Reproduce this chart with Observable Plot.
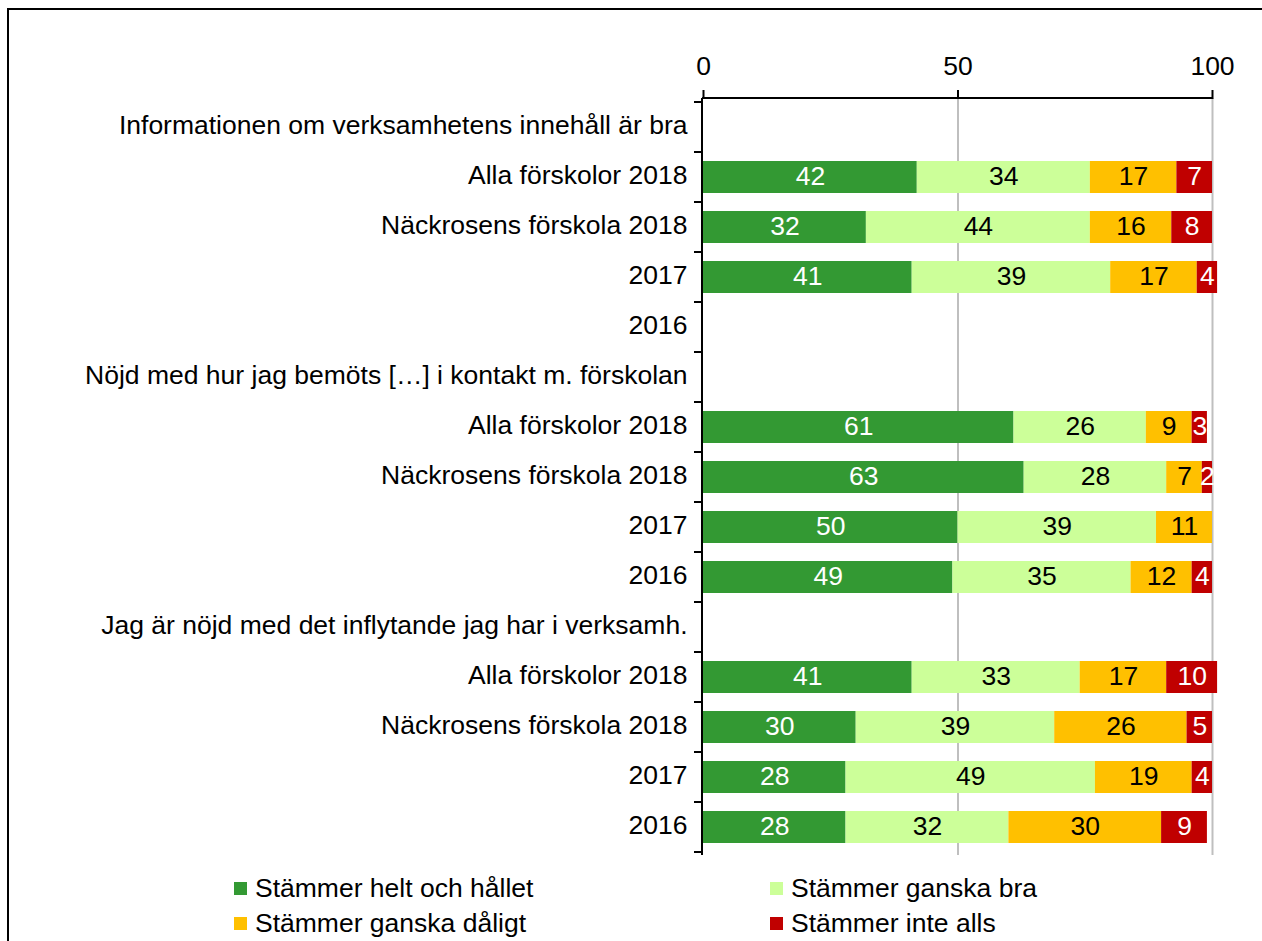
<!DOCTYPE html>
<html>
<head>
<meta charset="utf-8">
<script src="https://cdn.jsdelivr.net/npm/d3@7"></script>
<script src="https://cdn.jsdelivr.net/npm/@observablehq/plot@0.6"></script>
<style>
  html, body { margin: 0; padding: 0; background: #fff; overflow: hidden; }
  body { font-family: "Liberation Sans", Arial, sans-serif; }
  #wrap { position: relative; width: 1262px; height: 941px; overflow: hidden; }
  #border { position: absolute; left: 7px; top: 8px; width: 1300px; height: 1000px; border: 2px solid #000; box-sizing: border-box; }
  #chart { position: absolute; left: 0; top: 0; }
  .leg { position: absolute; font-size: 26.5px; line-height: 30px; color: #000; white-space: nowrap; }
  .leg .sw { position: absolute; width: 13px; height: 13px; left: 0; top: 9px; }
  .leg .lab { position: absolute; left: 21px; top: 0; }
</style>
</head>
<body>
<div id="wrap">
  <div id="border"></div>
  <div id="chart"></div>
  <div id="legend"></div>
</div>
<script>
// ---- data ----
const groups = [
  "Informationen om verksamhetens innehåll är bra",
  "Nöjd med hur jag bemöts […] i kontakt m. förskolan",
  "Jag är nöjd med det inflytande jag har i verksamh."
];
const rowLabels = ["Alla förskolor 2018", "Näckrosens förskola 2018", "2017", "2016"];
const series = ["Stämmer helt och hållet", "Stämmer ganska bra", "Stämmer ganska dåligt", "Stämmer inte alls"];
const seriesColors = ["#339933", "#ccff99", "#ffc000", "#c00000"];
const whiteTextSeries = ["Stämmer helt och hållet", "Stämmer inte alls"];
// values per group, per row (Alla 2018, Näckrosens 2018, 2017, 2016)
const heltOchHallet = [[42, 32, 41, null], [61, 63, 50, 49], [41, 30, 28, 28]];
const ganskaBra     = [[34, 44, 39, null], [26, 28, 39, 35], [33, 39, 49, 32]];
const ganskaDaligt  = [[17, 16, 17, null], [9, 7, 11, 12], [17, 26, 19, 30]];
const inteAlls      = [[7, 8, 4, null], [3, 2, null, 4], [10, 5, 4, 9]];
const xTicks = [0, 50, 100];
const gridTicks = [50, 100];

// ---- build table ----
const seriesValues = [heltOchHallet, ganskaBra, ganskaDaligt, inteAlls];
const keys = [];
const labelOf = {};
const data = [];
groups.forEach((g, gi) => {
  const hk = `h${gi}`;
  keys.push(hk); labelOf[hk] = g;
  rowLabels.forEach((r, ri) => {
    const k = `r${gi}-${ri}`;
    keys.push(k); labelOf[k] = r;
    series.forEach((s, si) => {
      const v = seriesValues[si][gi][ri];
      if (v != null) data.push({key: k, series: s, value: v});
    });
  });
});

// axis lines and boundary tick marks on the category axis (between rows)
function axisFrame(index, scales, values, dimensions) {
  const y = scales.y, x = scales.x;
  const bw = typeof y.bandwidth === "function" ? y.bandwidth() : scales.scales.y.bandwidth;
  const step = y(keys[1]) - y(keys[0]);
  const off = (step - bw) / 2;
  const ys = keys.map(k => y(k) - off);
  ys.push(y(keys[keys.length - 1]) + bw + off);
  const x0 = x(xTicks[0]) - 1;
  const top = dimensions.marginTop;
  const bottom = dimensions.height - dimensions.marginBottom;
  const g = d3.create("svg:g").attr("stroke", "#000").attr("stroke-width", 2);
  g.selectAll("line.t").data(ys).join("line")
    .attr("x1", x0 - 8).attr("x2", x0)
    .attr("y1", d => d).attr("y2", d => d);
  g.append("line").attr("x1", x0).attr("x2", x0).attr("y1", top).attr("y2", bottom);
  g.append("line").attr("x1", x0).attr("x2", x(xTicks[xTicks.length - 1])).attr("y1", top).attr("y2", top);
  return g.node();
}

const stackOpts = {y: "key", x: "value", z: "series"};

const chart = Plot.plot({
  width: 1262,
  height: 870,
  marginLeft: 703,
  marginRight: 50,
  marginTop: 98,
  marginBottom: 15,
  style: {fontFamily: "'Liberation Sans', Arial, sans-serif", fontSize: "26.5px", background: "transparent", color: "#000"},
  x: {domain: [0, 100], range: [703, 1212]},
  y: {domain: keys, paddingInner: 0.366, paddingOuter: 0.183},
  color: {domain: series, range: seriesColors},
  marks: [
    Plot.ruleX(gridTicks, {stroke: "#bfbfbf", strokeWidth: 2}),
    Plot.barX(data, Plot.stackX({...stackOpts, fill: "series"})),
    Plot.text(data, Plot.stackX({...stackOpts, text: d => whiteTextSeries.includes(d.series) ? String(d.value) : null, fill: "#fff", fontSize: 26.5, dy: -1})),
    Plot.text(data, Plot.stackX({...stackOpts, text: d => whiteTextSeries.includes(d.series) ? null : String(d.value), fill: "#000", fontSize: 26.5, dy: -1})),
    Plot.axisX({anchor: "top", ticks: xTicks, tickSize: 9, tickPadding: 15, fontSize: 26.5, strokeWidth: 2, stroke: "#000", label: null}),
    Plot.axisY({anchor: "left", tickSize: 0, tickPadding: 16, fontSize: 26.5, tickFormat: k => labelOf[k], label: null, dy: -2}),
    axisFrame
  ]
});
document.getElementById("chart").appendChild(chart);

// ---- legend (HTML, below the SVG) ----
const legend = document.getElementById("legend");
const legPos = [[234, 873], [770, 873], [234, 908], [770, 908]];
series.forEach((s, i) => {
  const item = document.createElement("div");
  item.className = "leg";
  item.style.left = legPos[i][0] + "px";
  item.style.top = legPos[i][1] + "px";
  const sw = document.createElement("span");
  sw.className = "sw";
  sw.style.background = seriesColors[i];
  const lab = document.createElement("span");
  lab.className = "lab";
  lab.textContent = s;
  item.appendChild(sw); item.appendChild(lab);
  legend.appendChild(item);
});
</script>
</body>
</html>
